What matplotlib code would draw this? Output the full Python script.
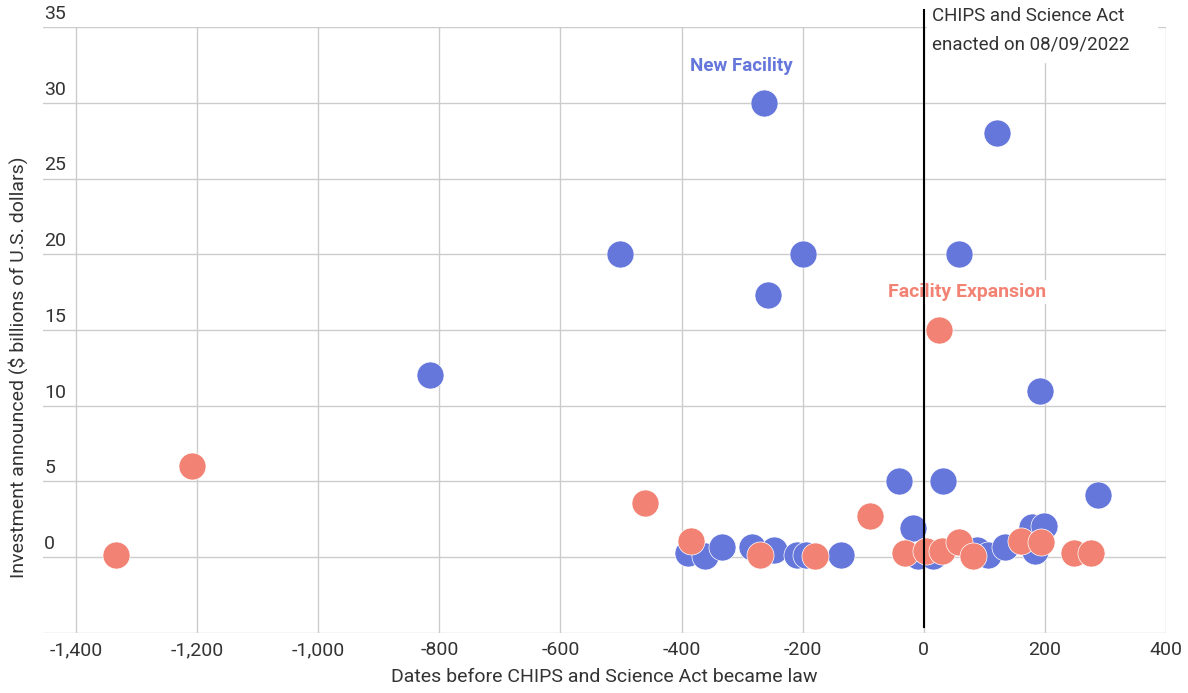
import matplotlib.pyplot as plt
from matplotlib.transforms import blended_transform_factory, offset_copy

plt.rcParams['font.family'] = ['Roboto', 'DejaVu Sans']

# New facility announcements (days relative to 08/09/2022, $ billions)
new_days = [-264, 121, -502, -200, 58, -258, -816, 192, -41, 31, 288,
            -18, 179, 198, -390, -362, -334, -284, -248, -210, -195, -137,
            -10, 15, 88, 106, 134, 184]
new_inv = [30.0, 28.0, 20.0, 20.0, 20.0, 17.3, 12.0, 11.0, 5.0, 5.0, 4.1,
           1.9, 2.0, 2.05, 0.26, 0.07, 0.66, 0.66, 0.46, 0.13, 0.13, 0.13,
           0.07, 0.07, 0.5, 0.13, 0.66, 0.4]

# Facility expansion announcements
exp_days = [-1334, -1208, -461, -385, -271, -180, -89, -31, 3, 25, 30, 58,
            81, 160, 193, 248, 276]
exp_inv = [0.13, 6.0, 3.6, 1.05, 0.13, 0.07, 2.7, 0.26, 0.4, 15.0, 0.4, 1.0,
           0.07, 1.05, 1.0, 0.3, 0.26]

x_ticks = [-1400, -1200, -1000, -800, -600, -400, -200, 0, 200, 400]
y_ticks = [-5, 0, 5, 10, 15, 20, 25, 30, 35]

blue = '#6677db'
salmon = '#f28273'
grey_text = '#333333'

fig = plt.figure(figsize=(11.88, 6.93), dpi=100)
ax = fig.add_axes([0.036, 0.0866, 0.9455, 0.8744])

ax.scatter(new_days, new_inv, s=380, color=blue, edgecolors='white', linewidths=0.5, zorder=3)
ax.scatter(exp_days, exp_inv, s=380, color=salmon, edgecolors='white', linewidths=0.5, zorder=4)

ax.set_xlim(-1455, 400)
ax.set_ylim(-5, 35)
ax.set_xticks(x_ticks)
ax.set_xticklabels(['{:,}'.format(v) for v in x_ticks])
ax.set_yticks(y_ticks)
ax.set_yticklabels([])
ax.tick_params(axis='both', length=0, labelsize=14, labelcolor=grey_text)
ax.tick_params(axis='x', pad=6)
ax.grid(True, color='#cccccc', linewidth=1)
ax.set_axisbelow(True)
for s in ax.spines.values():
    s.set_visible(False)

# y tick labels sit above their gridlines, inside the plot
trans = offset_copy(blended_transform_factory(ax.transAxes, ax.transData),
                    fig=fig, x=1, y=3, units='points')
for v in y_ticks[1:]:
    ax.text(0, v, str(v), transform=trans, ha='left', va='bottom',
            fontsize=14, color=grey_text, zorder=2)

# white patch behind the law annotation (hides gridlines)
ax.fill_between([6, 385], 32.7, 37, color='white', zorder=1.5, clip_on=False)

# law line
ax.plot([0, 0], [-4.6, 36.1], color='black', linewidth=1.5, clip_on=False, zorder=7)
ax.text(13, 36.3, 'CHIPS and Science Act\nenacted on 08/09/2022', ha='left', va='top',
        fontsize=13.5, color=grey_text, linespacing=1.75, zorder=6, clip_on=False)

ax.text(-301, 32.4, 'New Facility', ha='center', va='center', fontsize=13.5,
        fontweight='bold', color=blue, zorder=6)
ax.text(71, 17.5, 'Facility Expansion', ha='center', va='center', fontsize=14,
        fontweight='bold', color=salmon, zorder=6,
        bbox=dict(facecolor='white', edgecolor='none', pad=2))

ax.set_xlabel('Dates before CHIPS and Science Act became law', fontsize=14,
              color=grey_text, labelpad=6)
fig.text(0.015, 0.47, 'Investment announced ($ billions of U.S. dollars)', rotation=90,
         ha='center', va='center', fontsize=14, color=grey_text)

fig.savefig('out.png', dpi=100)
